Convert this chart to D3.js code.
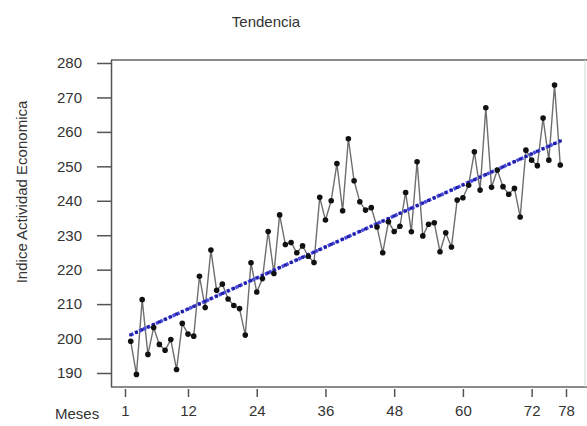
<!DOCTYPE html>
<html>
<head>
<meta charset="utf-8">
<script src="https://cdn.jsdelivr.net/npm/d3@7"></script>
<style>
  body { margin: 0; background: #fff; }
  text { font-family: "Liberation Sans", Arial, sans-serif; fill: #333; }
</style>
</head>
<body>
<svg id="chart" width="587" height="426"></svg>
<script>
// indice mensual
var indice = [
  199.2, 189.6, 211.3, 195.4, 203.2, 198.3, 196.6, 199.7, 191.0, 204.4, 201.3, 200.7,
  218.1, 209.0, 225.7, 214.0, 215.8, 211.5, 209.6, 208.7, 201.0, 222.0, 213.5, 217.4,
  231.1, 218.9, 235.9, 227.3, 227.9, 224.9, 226.9, 223.9, 222.1, 241.0, 234.4, 240.0,
  250.8, 237.1, 258.0, 245.8, 239.7, 237.3, 238.0, 232.4, 224.9, 233.9, 231.1, 232.6,
  242.4, 231.0, 251.3, 229.8, 233.2, 233.6, 225.2, 230.7, 226.6, 240.2, 240.9, 244.5,
  254.2, 243.1, 267.0, 243.9, 248.9, 244.1, 241.9, 243.6, 235.3, 254.7, 251.8, 250.2,
  264.0, 251.8, 273.6, 250.4
];
var meses = d3.range(2, 2 + indice.length);
var xTicks = [1, 12, 24, 36, 48, 60, 72, 78];
var yTicks = [190, 200, 210, 220, 230, 240, 250, 260, 270, 280];

var svg = d3.select('#chart');
var box = { left: 111, top: 60, right: 585, bottom: 387 };

var x = d3.scaleLinear().domain([1, 78]).range([125, 566]);
var y = d3.scaleLinear().domain([190, 280]).range([373, 63]);

var datos = meses.map(function(m, i) { return { m: m, v: indice[i] }; });

// recta de tendencia por minimos cuadrados
var mx = d3.mean(meses), my = d3.mean(indice);
var sxy = d3.sum(datos, function(d) { return (d.m - mx) * (d.v - my); });
var sxx = d3.sum(meses, function(m) { return (m - mx) * (m - mx); });
var b = sxy / sxx, a = my - b * mx;
var tendencia = meses.map(function(m) { return { m: m, v: a + b * m }; });

// marco
svg.append('line').attr('x1', box.left).attr('x2', 587).attr('y1', box.top).attr('y2', box.top)
  .attr('stroke', '#8a8a8a').attr('stroke-width', 2);
svg.append('line').attr('x1', box.left).attr('x2', 587).attr('y1', box.bottom).attr('y2', box.bottom)
  .attr('stroke', '#8a8a8a').attr('stroke-width', 2);
svg.append('line').attr('x1', box.right).attr('x2', box.right).attr('y1', box.top).attr('y2', box.bottom)
  .attr('stroke', '#d6d6d6').attr('stroke-width', 1);

// eje y
var gy = svg.append('g').attr('transform', 'translate(' + box.left + ',0)')
  .call(d3.axisLeft(y).tickValues(yTicks).tickSize(14).tickPadding(15).tickSizeOuter(0));
gy.select('.domain').attr('d', 'M0.5,' + box.top + 'V' + box.bottom).attr('stroke', '#555').attr('stroke-width', 1.5);
gy.selectAll('.tick line').attr('stroke', '#555').attr('stroke-width', 1.5);
gy.selectAll('.tick text').attr('font-size', 15).attr('fill', '#444').attr('font-family', '"Liberation Sans", Arial, sans-serif');

// eje x
var gx = svg.append('g').attr('transform', 'translate(0,' + (box.bottom + 2) + ')')
  .call(d3.axisBottom(x).tickValues(xTicks).tickSize(8).tickPadding(8));
gx.select('.domain').remove();
gx.selectAll('.tick line').attr('stroke', '#555').attr('stroke-width', 1.5);
gx.selectAll('.tick text').attr('font-size', 15).attr('fill', '#444').attr('font-family', '"Liberation Sans", Arial, sans-serif');

// serie
var linea = d3.line().x(function(d) { return x(d.m); }).y(function(d) { return y(d.v); });
svg.append('path').datum(datos).attr('d', linea)
  .attr('fill', 'none').attr('stroke', '#6e6e6e').attr('stroke-width', 1.4);

svg.append('path').datum(tendencia).attr('d', linea)
  .attr('fill', 'none').attr('stroke', '#4a4ae6').attr('stroke-width', 3.5)
  .attr('stroke-dasharray', '3,1.6');
svg.append('g').selectAll('rect').data(tendencia).join('rect')
  .attr('x', function(d) { return x(d.m) - 1.5; }).attr('y', function(d) { return y(d.v) - 1.5; })
  .attr('width', 3).attr('height', 3).attr('fill', '#2020a0');

svg.append('g').selectAll('circle').data(datos).join('circle')
  .attr('cx', function(d) { return x(d.m); }).attr('cy', function(d) { return y(d.v); })
  .attr('r', 2.8).attr('fill', '#111');

// textos
svg.append('text').attr('x', 266).attr('y', 27).attr('text-anchor', 'middle')
  .attr('font-size', 15).text('Tendencia');
svg.append('text').attr('transform', 'translate(27,' + 192 + ') rotate(-90)')
  .attr('text-anchor', 'middle').attr('font-size', 15).attr('fill', '#444')
  .text('Indice Actividad Economica');
svg.append('text').attr('x', 55).attr('y', 419).attr('font-size', 15).attr('fill', '#444').text('Meses');
</script>
</body>
</html>
